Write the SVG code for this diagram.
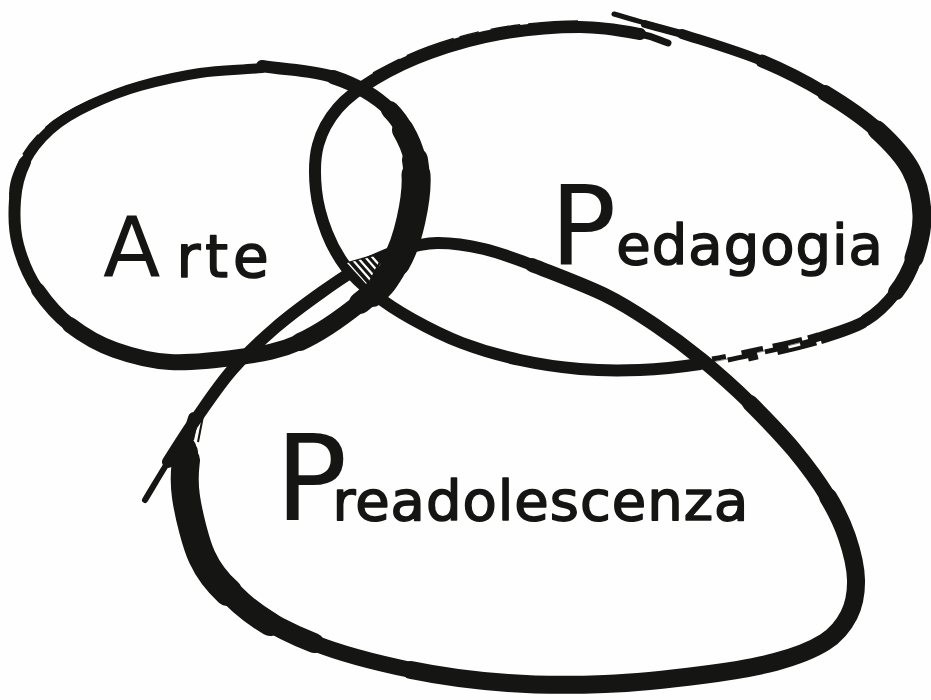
<svg xmlns="http://www.w3.org/2000/svg" width="931" height="700" viewBox="0 0 931 700">
  <style>
    .ink{fill:none;stroke:#151513;stroke-linecap:round;stroke-linejoin:round}
    .dry{fill:none;stroke:#151513;stroke-linecap:butt}
    .label{font-family:"DejaVu Sans","Liberation Sans",sans-serif;fill:#151513;stroke:#151513;stroke-width:1.6;stroke-linejoin:round}
    .cap{stroke-width:0}
  </style>
  <defs>
    <clipPath id="hatchClip">
      <polygon points="347,263 383,254 367,285"/>
    </clipPath>
  </defs>

  <rect width="931" height="700" fill="#fefefe"/>

  <!-- Arte: left loop, heavy on its right side -->
  <g id="arte">
    <path class="ink" stroke-width="10" d="M262,66 C286,70 312,70 333,77 S376,96 390,110 S411.5,142 415,160 S415,202 411,220 S400.5,256 392,270 S375,291 360,303 S320,333 300,342 S262,354 240,357 S191,363 170,362 S132,356 115,350 S83,335 70,325 S47,303 38,290 S22,260 18,245 S14,214 15,200 S19,174 25,162 S39,140 50,130 S75,112 90,105 S122,91 140,86 S180,76 200,73 S241,70 262,68"/>
    <path class="ink" stroke-width="12" d="M262,66 C286,70 312,70 333,77 S376,96 390,110 S411.5,142 415,160 S415,202 411,220 S400.5,256 392,270 S375,291 360,303 S320,333 300,342 S262,354 240,357 S191,363 170,362 S132,356 115,350 S83,335 70,325 S47,303 38,290 S22,260 18,245 S14,214 15,200 S19,174 25,162"/>
    <path class="ink" stroke-width="14" d="M333,77 C354,84 376,96 390,110 S411.5,142 415,160 S415,202 411,220 S400.5,256 392,270 S375,291 360,303 S320,333 300,342 S262,354 240,357 S191,363 170,362 S132,356 115,350 S83,335 70,325 S47,303 38,290"/>
    <path class="ink" stroke-width="18" d="M390,110 C404,124 411.5,142 415,160 S415,202 411,220 S400.5,256 392,270 S375,291 360,303 S320,333 300,342"/>
    <path class="ink" stroke-width="22" d="M403,130 C410,142 413,150 415,160 S415,202 411,220 S400.5,256 392,270 S375,291 360,303"/>
    <path class="ink" stroke-width="26" d="M415,160 C418.5,178 415,202 411,220 S400.5,256 392,270 S380,288 372,294"/>
    <path class="ink" stroke-width="29" d="M416,175 C417,190 415,202 411,220 S402,252 396,262"/>
    <path class="ink" stroke-width="16" d="M300,342 C280,351 262,354 240,357 S191,363 170,362 S132,356 115,350 S83,335 70,325"/>
    <!-- loose bristle marks along the outer edge -->
    <path class="dry" stroke-width="1.6" stroke-dasharray="40 6 25 10 60 8" transform="translate(-5,-2)" d="M15,200 C14,186 19,174 25,162 S39,140 50,130 S75,112 90,105 S122,91 140,86 S180,76 200,73"/>
    <text class="label" x="103" y="277"><tspan class="cap" font-size="84">A</tspan><tspan dx="16" font-size="58" letter-spacing="5">rte</tspan></text>
  </g>

  <!-- Pedagogia: wide loop on the right, dry brush along the lower right -->
  <g id="pedagogia">
    <path class="ink" stroke-width="5" d="M614,14 C637,21 657,26 682,34"/>
    <path class="ink" stroke-width="8" d="M645,24 C660,28 670,31 682,34"/>
    <path class="ink" stroke-width="10" d="M682,34 C707,42 738,51 762,61 S806,81.5 825,93 S862.7,117 877,130 S903.5,155.8 911,170 S921.5,200.3 922,215 S918.3,245.2 914,258 S904,281.7 896,292"/>
    <path class="ink" stroke-width="13" d="M762,61 C786,71 806,81.5 825,93 S862.7,117 877,130 S903.5,155.8 911,170 S921.5,200.3 922,215 S918.3,245.2 914,258 S904,281.7 896,292"/>
    <path class="ink" stroke-width="16" d="M825,93 C844,104.5 862.7,117 877,130 S903.5,155.8 911,170 S921.5,200.3 922,215 S918.3,245.2 914,258 S904,281.7 896,292"/>
    <path class="ink" stroke-width="19" d="M877,130 C891.3,143 903.5,155.8 911,170 S921.5,200.3 922,215 S918.3,245.2 914,258"/>
    <path class="ink" stroke-width="12" d="M896,292 C888,302.3 879,312.3 866,320"/>
    <path class="dry" stroke-width="5" stroke-dasharray="62 6 30 10 22 16 14 40" transform="translate(0,-3)" d="M866,320 C853,327.7 835.7,332.7 818,338 S779.7,347.7 760,352 S720,361 700,364"/>
    <path class="dry" stroke-width="5" stroke-dasharray="70 12 24 8 30 50" transform="translate(0,1)" d="M866,320 C853,327.7 835.7,332.7 818,338 S779.7,347.7 760,352 S720,361 700,364"/>
    <path class="dry" stroke-width="4" stroke-dasharray="48 5 40 20 10 60" transform="translate(0,5)" d="M866,320 C853,327.7 835.7,332.7 818,338 S779.7,347.7 760,352 S720,361 700,364"/>
    <path class="dry" stroke-width="1" stroke-opacity="0.5" d="M866,320 C853,327.7 835.7,332.7 818,338 S779.7,347.7 760,352 S720,361 700,364"/>
    <path class="ink" stroke-width="12" d="M700,364 C680,367 660,369.2 640,370 S600,370.7 580,369 S539.7,364.3 520,360 S480,349.8 462,343 S426.7,327.2 412,319 S385,302.7 374,294 S353.8,277.2 346,267 S332,245.8 327,233 S317.5,204.7 316,190 S314.3,158.7 318,145 S328.5,119 338,108 S359.7,88.2 375,79 S409.2,60.5 430,53 S475,38.3 500,34 S556.7,27 580,27 S625.3,31.3 640,34"/>
    <path class="ink" stroke-width="7" d="M640,34 C654.7,36.7 658.7,40 668,43"/>
    <path class="dry" stroke-width="1.5" stroke-dasharray="30 8 50 6 20 12" transform="translate(-2,-6)" d="M375,79 C390,71 409.2,60.5 430,53 S475,38.3 500,34 S556.7,27 580,27"/>
    <text class="label" x="550" y="264"><tspan class="cap" font-size="110">P</tspan><tspan font-size="56" letter-spacing="1">edagogia</tspan></text>
  </g>

  <!-- Preadolescenza: lower loop, started with a thin tail on the left -->
  <g id="preadolescenza">
    <path class="ink" stroke-width="6" d="M145,500 C152.7,487.3 159.2,476 168,462"/>
    <path class="ink" stroke-width="12" d="M168,462 C176.8,448 187.3,431.3 198,416 S219.2,384.7 232,370 S260,341 275,328 S307.5,302.3 322,292 S349,273 362,266 S387.5,253.8 400,250 S423,243.2 437,243 S468.2,245.3 484,249 S511.8,257.3 532,265 S584.5,285 605,295 S638.8,314.2 655,325 S686.2,347 702,360 S734.7,388 750,403 S781,434.3 794,450 S819.2,482.5 828,497 S842.3,523.2 847,537 S855.7,567 856,580 S854.2,604.7 849,615 S837.3,634.2 825,642 S795.5,656.5 775,662 S730.3,671.3 702,675 S637.3,682.7 605,684 S540.3,685.3 508,683 S443.3,676.7 411,670 S342.3,654.2 314,643 S259.7,617.3 241,603 S211.2,574.7 202,557 S188.7,515.3 186,497 S184.7,460.2 186,447 S191.3,427.7 194,418"/>
    <path class="ink" stroke-width="14" d="M532,265 C552,273 584.5,285 605,295 S638.8,314.2 655,325 S686.2,347 702,360 S734.7,388 750,403 S781,434.3 794,450 S819.2,482.5 828,497 S842.3,523.2 847,537 S855.7,567 856,580 S854.2,604.7 849,615 S837.3,634.2 825,642 S795.5,656.5 775,662 S730.3,671.3 702,675 S637.3,682.7 605,684 S540.3,685.3 508,683 S443.3,676.7 411,670 S342.3,654.2 314,643 S259.7,617.3 241,603"/>
    <path class="ink" stroke-width="16" d="M750,403 C765,418 781,434.3 794,450 S819.2,482.5 828,497 S842.3,523.2 847,537 S855.7,567 856,580 S854.2,604.7 849,615 S837.3,634.2 825,642 S795.5,656.5 775,662 S730.3,671.3 702,675 S637.3,682.7 605,684 S540.3,685.3 508,683 S443.3,676.7 411,670 S342.3,654.2 314,643"/>
    <path class="ink" stroke-width="18" d="M828,497 C836.8,511.5 842.3,523.2 847,537 S855.7,567 856,580 S854.2,604.7 849,615 S837.3,634.2 825,642 S795.5,656.5 775,662 S730.3,671.3 702,675 S637.3,682.7 605,684 S540.3,685.3 508,683 S443.3,676.7 411,670"/>
    <path class="ink" stroke-width="20" d="M314,643 C285.7,631.8 259.7,617.3 241,603 S211.2,574.7 202,557 S188.7,515.3 186,497 S184.7,460.2 186,447"/>
    <path class="ink" stroke-width="24" d="M270,624 C255,615 250,611 241,603 S211.2,574.7 202,557 S188.7,515.3 186,497 S184.7,460.2 186,452"/>
    <path class="ink" stroke-width="28" d="M228,592 C218,583 208,570 202,557 S188.7,515.3 186,497 S185,470 186,460"/>
    <!-- bristle streaks where the thick left stroke begins -->
    <path class="dry" stroke-width="2" d="M188,440 L194,414 M193,440 L199,412 M198,442 L203,416"/>
    <text class="label" x="275" y="520"><tspan class="cap" font-size="120">P</tspan><tspan dx="-15" font-size="56" letter-spacing="1">readolescenza</tspan></text>
  </g>

  <!-- hatched centre where all three loops meet -->
  <g id="overlap">
    <polygon points="344,263 386,251 369,289" fill="#151513"/>
    <g clip-path="url(#hatchClip)" stroke="#fefefe" stroke-width="2.2">
      <line x1="322" y1="250" x2="352" y2="284"/>
      <line x1="329" y1="250" x2="359" y2="284"/>
      <line x1="336" y1="250" x2="366" y2="284"/>
      <line x1="344" y1="250" x2="374" y2="284"/>
      <line x1="351" y1="250" x2="381" y2="284"/>
      <line x1="359" y1="250" x2="389" y2="284"/>
      <line x1="366" y1="250" x2="396" y2="284"/>
    </g>
  </g>

  <g id="connectors"/>
</svg>
